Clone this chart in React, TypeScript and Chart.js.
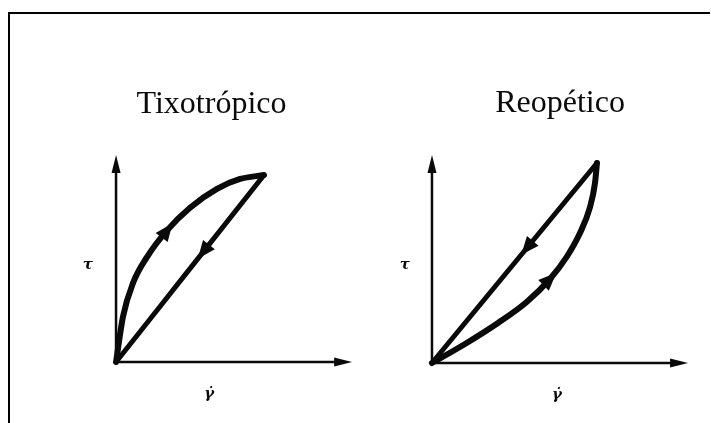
import { useEffect, useRef } from "react";
import { Chart, registerables } from "chart.js";

Chart.register(...registerables);

// Panel titles and axis symbols
const titles = ["Tixotrópico", "Reopético"];
const stressSymbol = "τ";
const rateSymbol = "γ̇";

// Tixotrópico loop (normalised τ vs γ̇): rising branch, then descending branch
const thixoUpX = [0, 0.047, 0.115, 0.209, 0.345, 0.5, 0.682, 0.838, 1];
const thixoUpY = [0, 0.243, 0.423, 0.561, 0.704, 0.825, 0.926, 0.979, 1];
const thixoDownX = [1, 0.6, 0.3, 0];
const thixoDownY = [1, 0.6, 0.3, 0];

// Reopético loop: rising branch, then descending branch
const rheoUpX = [0, 0.2, 0.4, 0.574, 0.715, 0.816, 0.897, 0.958, 0.988, 1];
const rheoUpY = [0, 0.095, 0.2, 0.305, 0.42, 0.53, 0.65, 0.78, 0.9, 1];
const rheoDownX = [1, 0.5, 0];
const rheoDownY = [1, 0.5, 0];

// Where the direction arrows sit on each branch (γ̇ value)
const thixoArrowAt = [0.345, 0.59];
const rheoArrowAt = [0.715, 0.576];

const toPoints = (xs: number[], ys: number[]) => xs.map((x, i) => ({ x, y: ys[i] }));

type Panel = {
  title: string;
  xId: string;
  yId: string;
  xTip: number;
  yTip: number;
  titleAt: [number, number];
  tauAt: [number, number];
  rateAt: [number, number];
};

const panels: Panel[] = [
  { title: titles[0], xId: "xL", yId: "yL", xTip: 1.595, yTip: 1.107, titleAt: [0.645, 1.33], tauAt: [-0.19, 0.52], rateAt: [0.63, -0.17] },
  { title: titles[1], xId: "xR", yId: "yR", xTip: 1.552, yTip: 1.04, titleAt: [0.776, 1.255], tauAt: [-0.164, 0.49], rateAt: [0.758, -0.16] },
];

const INK = "#0a0a0a";

function arrowHead(ctx: CanvasRenderingContext2D, tx: number, ty: number, dx: number, dy: number, len: number, wid: number) {
  const n = Math.hypot(dx, dy) || 1;
  const ux = dx / n, uy = dy / n;
  const bx = tx - ux * len, by = ty - uy * len;
  ctx.beginPath();
  ctx.moveTo(tx, ty);
  ctx.lineTo(bx - uy * wid / 2, by + ux * wid / 2);
  ctx.lineTo(bx + uy * wid / 2, by - ux * wid / 2);
  ctx.closePath();
  ctx.fill();
}

const axesPlugin = {
  id: "loopAxes",
  beforeDatasetsDraw(chart: any) {
    const ctx = chart.ctx as CanvasRenderingContext2D;
    ctx.save();
    ctx.strokeStyle = INK;
    ctx.fillStyle = INK;
    ctx.lineWidth = 2.5;
    ctx.lineCap = "butt";
    for (const p of panels) {
      const xs = chart.scales[p.xId];
      const ys = chart.scales[p.yId];
      const ox = xs.getPixelForValue(0);
      const oy = ys.getPixelForValue(0);
      const tx = xs.getPixelForValue(p.xTip);
      const ty = ys.getPixelForValue(p.yTip);
      ctx.beginPath();
      ctx.moveTo(ox - 1, oy);
      ctx.lineTo(tx - 10, oy);
      ctx.moveTo(ox, oy + 1);
      ctx.lineTo(ox, ty + 10);
      ctx.stroke();
      arrowHead(ctx, tx, oy, 1, 0, 18, 9);
      arrowHead(ctx, ox, ty, 0, -1, 18, 9);
    }
    ctx.restore();
  },
  afterDatasetsDraw(chart: any) {
    const ctx = chart.ctx as CanvasRenderingContext2D;
    ctx.save();
    ctx.fillStyle = INK;
    chart.data.datasets.forEach((ds: any, i: number) => {
      const meta = chart.getDatasetMeta(i);
      const xs = chart.scales[ds.xAxisID];
      const target = xs.getPixelForValue(ds.arrowAt);
      const pts = meta.data.map((e: any) => ({ x: e.x, y: e.y }));
      for (let k = 0; k < pts.length - 1; k++) {
        const a = pts[k], b = pts[k + 1];
        const lo = Math.min(a.x, b.x), hi = Math.max(a.x, b.x);
        if (target >= lo && target <= hi) {
          const t = (target - a.x) / (b.x - a.x || 1);
          const px = a.x + (b.x - a.x) * t;
          const py = a.y + (b.y - a.y) * t;
          const dx = b.x - a.x, dy = b.y - a.y;
          const n = Math.hypot(dx, dy) || 1;
          arrowHead(ctx, px + (dx / n) * 9, py + (dy / n) * 9, dx, dy, 18, 15);
          break;
        }
      }
    });
    ctx.restore();
  },
  afterDraw(chart: any) {
    const ctx = chart.ctx as CanvasRenderingContext2D;
    ctx.save();
    ctx.fillStyle = INK;
    ctx.textAlign = "center";
    ctx.textBaseline = "alphabetic";
    for (const p of panels) {
      const xs = chart.scales[p.xId];
      const ys = chart.scales[p.yId];
      ctx.font = "32px 'Liberation Serif', 'Times New Roman', serif";
      ctx.fillText(p.title, xs.getPixelForValue(p.titleAt[0]), ys.getPixelForValue(p.titleAt[1]));
      ctx.font = "italic bold 15px 'DejaVu Serif', serif";
      ctx.textBaseline = "middle";
      ctx.fillText(stressSymbol, xs.getPixelForValue(p.tauAt[0]), ys.getPixelForValue(p.tauAt[1]));
      ctx.fillText(rateSymbol, xs.getPixelForValue(p.rateAt[0]), ys.getPixelForValue(p.rateAt[1]));
      ctx.textBaseline = "alphabetic";
    }
    ctx.restore();
  },
};

export default function App() {
  const canvasRef = useRef<HTMLCanvasElement | null>(null);

  useEffect(() => {
    if (!canvasRef.current) return;
    const branch = (xs: number[], ys: number[], xId: string, yId: string, arrowAt: number, width: number) => ({
      data: toPoints(xs, ys),
      xAxisID: xId,
      yAxisID: yId,
      arrowAt,
      borderColor: INK,
      borderWidth: width,
      pointRadius: 0,
      fill: false,
      cubicInterpolationMode: "monotone",
      borderCapStyle: "round",
      borderJoinStyle: "round",
    });
    const hidden = { type: "linear", display: false, grid: { display: false } };
    const chart = new Chart(canvasRef.current, {
      type: "line",
      data: {
        datasets: [
          branch(thixoUpX, thixoUpY, "xL", "yL", thixoArrowAt[0], 6),
          branch(thixoDownX, thixoDownY, "xL", "yL", thixoArrowAt[1], 5),
          branch(rheoUpX, rheoUpY, "xR", "yR", rheoArrowAt[0], 6),
          branch(rheoDownX, rheoDownY, "xR", "yR", rheoArrowAt[1], 5),
        ] as any,
      },
      options: {
        animation: false,
        responsive: false,
        devicePixelRatio: 1,
        layout: { padding: 0 },
        plugins: { legend: { display: false }, tooltip: { enabled: false }, title: { display: false } },
        events: [],
        scales: {
          xL: { ...hidden, position: "bottom", min: -0.784, max: 4.02 },
          yL: { ...hidden, position: "left", min: -0.326, max: 1.936 },
          xR: { ...hidden, position: "bottom", min: -2.618, max: 1.691 },
          yR: { ...hidden, position: "left", min: -0.3, max: 1.815 },
        } as any,
      },
      plugins: [axesPlugin],
    });
    return () => chart.destroy();
  }, []);

  return (
    <div style={{ position: "absolute", left: 0, top: 0, width: 711, height: 423, background: "#fff", overflow: "hidden" }}>
      <canvas ref={canvasRef} width={711} height={423} style={{ display: "block", filter: "blur(0.4px)" }} />
      <div
        style={{
          position: "absolute",
          left: 8,
          top: 12,
          width: 702,
          height: 411,
          boxSizing: "border-box",
          borderTop: "2px solid #000",
          borderLeft: "2px solid #000",
          pointerEvents: "none",
        }}
      />
    </div>
  );
}
